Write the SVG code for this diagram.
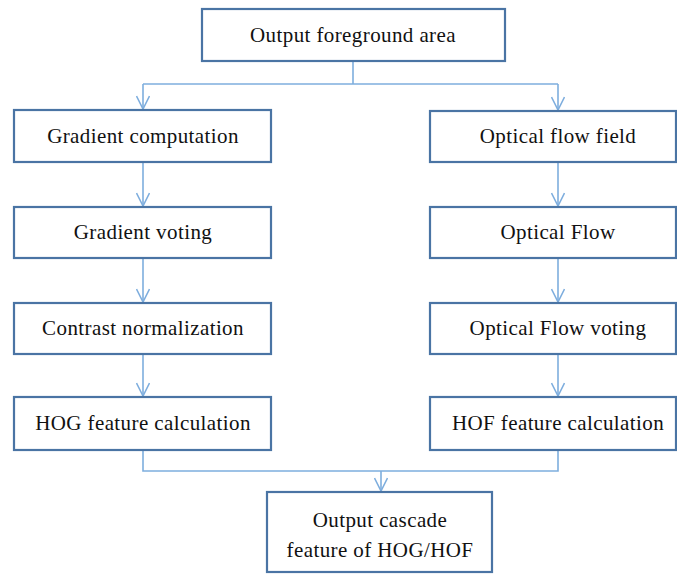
<svg xmlns="http://www.w3.org/2000/svg" width="677" height="574" viewBox="0 0 677 574">
<style>
.box{fill:#fff;stroke:#4a74a4;stroke-width:2.2}
.t{font-family:"Liberation Serif","Times New Roman",serif;font-size:21px;letter-spacing:0.4px;fill:#111;text-anchor:middle}
.c{fill:none;stroke:#7eaede;stroke-width:1.6}
</style>
<defs>
<marker id="ah" markerWidth="16" markerHeight="14" refX="14" refY="7" orient="auto" markerUnits="userSpaceOnUse">
<path d="M1,0.5 L14,7 L1,13.5" fill="none" stroke="#7eaede" stroke-width="1.6"/>
</marker>
</defs>
<rect width="677" height="574" fill="#fff"/>
<g id="connectors">
<path class="c" d="M353,61 V84"/>
<path class="c" d="M143,84 H558"/>
<path class="c" d="M143,84 V109" marker-end="url(#ah)"/>
<path class="c" d="M558,84 V110" marker-end="url(#ah)"/>
<path class="c" d="M143,162 V206" marker-end="url(#ah)"/>
<path class="c" d="M143,258 V302" marker-end="url(#ah)"/>
<path class="c" d="M143,354 V396" marker-end="url(#ah)"/>
<path class="c" d="M558,162 V206" marker-end="url(#ah)"/>
<path class="c" d="M558,258 V302" marker-end="url(#ah)"/>
<path class="c" d="M558,354 V396" marker-end="url(#ah)"/>
<path class="c" d="M143,450 V471 H558 V450"/>
<path class="c" d="M381,471 V491" marker-end="url(#ah)"/>
</g>
<g id="n_top"><rect class="box" x="202" y="9" width="303" height="52"/><text class="t" x="353" y="42">Output foreground area</text></g>
<g id="n_gc"><rect class="box" x="14" y="110" width="257" height="52"/><text class="t" x="143" y="143">Gradient computation</text></g>
<g id="n_gv"><rect class="box" x="14" y="207" width="257" height="51"/><text class="t" x="143" y="239">Gradient voting</text></g>
<g id="n_cn"><rect class="box" x="14" y="303" width="257" height="51"/><text class="t" x="143" y="335">Contrast normalization</text></g>
<g id="n_hog"><rect class="box" x="14" y="397" width="257" height="53"/><text class="t" x="143" y="430">HOG feature calculation</text></g>
<g id="n_off"><rect class="box" x="430" y="111" width="246" height="51"/><text class="t" x="558" y="143">Optical flow field</text></g>
<g id="n_of"><rect class="box" x="430" y="207" width="246" height="51"/><text class="t" x="558" y="239">Optical Flow</text></g>
<g id="n_ofv"><rect class="box" x="430" y="303" width="246" height="51"/><text class="t" x="558" y="335">Optical Flow voting</text></g>
<g id="n_hof"><rect class="box" x="430" y="397" width="246" height="53"/><text class="t" x="558" y="430">HOF feature calculation</text></g>
<g id="n_out"><rect class="box" x="267" y="492" width="225" height="80"/><text class="t" x="380" y="527">Output cascade</text><text class="t" x="380" y="557">feature of HOG/HOF</text></g>
</svg>
